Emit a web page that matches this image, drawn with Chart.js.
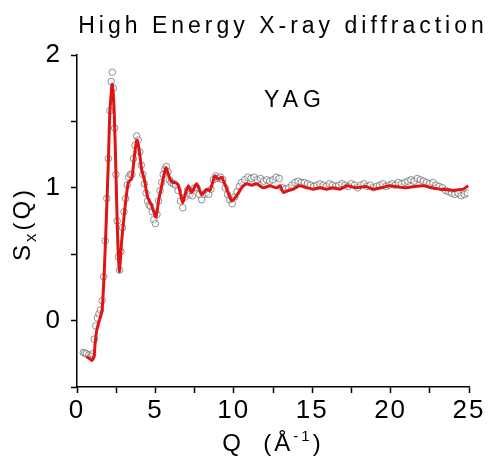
<!DOCTYPE html>
<html>
<head>
<meta charset="utf-8">
<script src="https://cdn.jsdelivr.net/npm/chart.js@4"></script>
<style>
  html, body { margin: 0; padding: 0; background: #fff; }
</style>
</head>
<body>
<canvas id="chart" width="491" height="458"></canvas>
<script>
// fitted curve (red line)
const fitQ = [0.6, 0.8, 0.95, 1.08, 1.15, 1.25, 1.36, 1.5, 1.6, 1.72, 1.85, 2.0, 2.1, 2.25, 2.38, 2.49, 2.59, 2.7, 2.85, 3.06,
  3.27, 3.49, 3.7, 3.82, 3.95, 4.12, 4.3, 4.5, 4.76, 5.04, 5.2, 5.4, 5.55, 5.68, 5.93, 6.1, 6.25, 6.46, 6.74, 6.9,
  7.1, 7.31, 7.63, 7.95, 8.27, 8.48, 8.65, 8.8, 9.01, 9.23, 9.55, 9.87, 10.18, 10.5, 10.82, 11.14, 11.46, 11.88, 12.3, 12.73,
  12.95, 13.16, 13.48, 13.8, 14.2, 14.65, 15.07, 15.5, 15.9, 16.35, 16.8, 17.2, 17.84, 18.4, 18.9, 19.4, 19.96, 20.5, 21.0, 21.5,
  22.1, 22.6, 23.15, 23.6, 24.0, 24.3, 24.64, 24.95];
const fitS = [-0.27, -0.285, -0.3, -0.275, -0.18, -0.08, -0.025, 0.03, 0.08, 0.32, 0.7, 1.2, 1.58, 1.78, 1.55, 1.08, 0.63, 0.37, 0.6, 0.85,
  1.04, 1.07, 1.28, 1.36, 1.3, 1.14, 1.06, 0.93, 0.865, 0.78, 0.9, 1.015, 1.1, 1.15, 1.065, 1.04, 1.04, 1.02, 0.89, 0.95,
  1.015, 0.965, 1.03, 0.95, 0.99, 0.98, 1.04, 1.09, 1.065, 1.08, 0.99, 0.9, 0.94, 1.0, 1.03, 1.02, 1.03, 1.0, 1.015, 1.0,
  1.015, 0.965, 0.98, 0.99, 1.015, 1.0, 0.99, 1.0, 0.99, 1.0, 0.99, 1.015, 1.0, 1.01, 0.99, 1.0, 1.015, 1.005, 1.0, 1.01,
  1.015, 1.0, 0.99, 0.985, 0.98, 0.985, 0.99, 1.015];

// measured points (open grey circles)
const dataQ = [0.4, 0.5, 0.6, 0.75, 0.9, 1.0, 1.1, 1.2, 1.3, 1.4, 1.5, 1.6, 1.7, 1.8, 1.9, 2.0, 2.1, 2.18, 2.25, 2.32,
  2.4, 2.48, 2.56, 2.64, 2.72, 2.8, 2.9, 3.0, 3.1, 3.2, 3.3, 3.4, 3.5, 3.6, 3.7, 3.8, 3.9, 4.0, 4.1, 4.2,
  4.3, 4.4, 4.5, 4.6, 4.7, 4.8, 4.9, 5.0, 5.1, 5.2, 5.3, 5.4, 5.5, 5.6, 5.7, 5.8, 5.9, 6.0, 6.15, 6.3,
  6.45, 6.6, 6.75, 6.9, 7.05, 7.2, 7.35, 7.5, 7.65, 7.8, 7.95, 8.1, 8.25, 8.4, 8.55, 8.7, 8.85, 9.0, 9.15, 9.3,
  9.45, 9.6, 9.75, 9.9, 10.05, 10.2, 10.35, 10.5, 10.7, 10.9, 11.1, 11.3, 11.5, 11.7, 11.9, 12.1, 12.3, 12.5, 12.7, 12.9,
  13.1, 13.3, 13.5, 13.7, 13.9, 14.1, 14.3, 14.5, 14.7, 14.9, 15.1, 15.3, 15.5, 15.7, 15.9, 16.1, 16.3, 16.5, 16.7, 16.9,
  17.1, 17.3, 17.5, 17.7, 17.9, 18.1, 18.3, 18.5, 18.7, 18.9, 19.1, 19.3, 19.5, 19.7, 19.9, 20.1, 20.3, 20.5, 20.7, 20.9,
  21.1, 21.3, 21.5, 21.7, 21.9, 22.1, 22.3, 22.5, 22.7, 22.9, 23.1, 23.3, 23.5, 23.7, 23.9, 24.1, 24.3, 24.5, 24.7, 24.9];
const dataS = [-0.24, -0.245, -0.25, -0.26, -0.27, -0.25, -0.14, -0.04, 0.02, 0.05, 0.08, 0.15, 0.33, 0.6, 0.92, 1.22, 1.58, 1.8, 1.87, 1.75,
  1.45, 1.1, 0.75, 0.48, 0.38, 0.52, 0.7, 0.82, 0.92, 1.02, 1.08, 1.1, 1.1, 1.22, 1.32, 1.39, 1.36, 1.27, 1.17, 1.1,
  1.03, 0.96, 0.9, 0.87, 0.86, 0.82, 0.76, 0.73, 0.8, 0.9, 0.98, 1.04, 1.1, 1.14, 1.16, 1.12, 1.06, 1.04, 1.03, 1.02,
  0.98, 0.9, 0.85, 0.93, 0.98, 0.95, 0.94, 1.0, 1.0, 0.95, 0.91, 0.95, 0.96, 0.95, 0.99, 1.06, 1.09, 1.07, 1.08, 1.06,
  1.0, 0.95, 0.91, 0.88, 0.93, 0.97, 1.01, 1.04, 1.06, 1.08, 1.07, 1.08, 1.06, 1.07, 1.05, 1.06, 1.05, 1.06, 1.08, 1.07,
  1.0, 0.99, 1.0, 1.02, 1.04, 1.05, 1.04, 1.04, 1.03, 1.02, 1.01, 1.02, 1.03, 1.02, 1.01, 1.03, 1.02, 1.01, 1.02, 1.03,
  1.02, 1.01, 1.03, 1.02, 1.0, 1.02, 1.03, 1.01, 1.02, 1.0, 1.01, 1.02, 1.03, 1.01, 1.02, 1.03, 1.02, 1.04, 1.03, 1.04,
  1.05, 1.06, 1.05, 1.07, 1.06, 1.05, 1.04, 1.03, 1.04, 1.02, 1.01, 1.0, 0.98, 0.97, 0.96, 0.95, 0.96, 0.94, 0.95, 0.96];

const xLabels = [0, 5, 10, 15, 20, 25];
const yLabels = [0, 1, 2];

const FONT = '"Liberation Sans", Arial, sans-serif';
Chart.defaults.font.family = FONT;
Chart.defaults.color = '#000';

// texts with sub/superscripts and letter spacing
const textPlugin = {
  id: 'texts',
  beforeDraw(chart) {
    chart.ctx.letterSpacing = '2px';
  },
  afterDraw(chart) {
    const ctx = chart.ctx;
    ctx.save();
    ctx.fillStyle = '#000';
    ctx.textBaseline = 'alphabetic';

    // title
    ctx.font = '23px ' + FONT;
    ctx.letterSpacing = '4px';
    ctx.textAlign = 'center';
    ctx.fillText('High Energy X-ray diffraction', 283, 33);

    // sample label
    ctx.letterSpacing = '5px';
    ctx.fillText('YAG', 295, 107);

    ctx.textAlign = 'left';
    ctx.letterSpacing = '3px';

    // x axis title: Q (Å-1)
    const big = '24px ' + FONT, small = '15px ' + FONT;
    ctx.font = big;
    const p1 = 'Q  (Å', p3 = ')';
    const w1 = ctx.measureText(p1).width, w3 = ctx.measureText(p3).width;
    ctx.font = small;
    const p2 = '-1';
    const w2 = ctx.measureText(p2).width;
    let x = 273 - (w1 + w2 + w3) / 2;
    ctx.font = big;
    ctx.fillText(p1, x, 451);
    ctx.font = small;
    ctx.fillText(p2, x + w1, 441);
    ctx.font = big;
    ctx.fillText(p3, x + w1 + w2, 451);

    // y axis title: Sx(Q)
    ctx.translate(30, 224);
    ctx.rotate(-Math.PI / 2);
    ctx.font = big;
    const s1 = 'S', s3 = '(Q)';
    const v1 = ctx.measureText(s1).width, v3 = ctx.measureText(s3).width;
    ctx.font = '17px ' + FONT;
    const s2 = 'x';
    const v2 = ctx.measureText(s2).width;
    x = -(v1 + v2 + v3) / 2;
    ctx.font = big;
    ctx.fillText(s1, x, 0);
    ctx.font = '17px ' + FONT;
    ctx.fillText(s2, x + v1, 6);
    ctx.font = big;
    ctx.fillText(s3, x + v1 + v2, 0);

    ctx.restore();
    ctx.letterSpacing = '0px';
  }
};

new Chart(document.getElementById('chart'), {
  type: 'line',
  data: {
    datasets: [
      {
        label: 'fit',
        data: fitQ.map((q, i) => ({ x: q, y: fitS[i] })),
        borderColor: '#e01414',
        borderWidth: 3,
        pointRadius: 0,
        tension: 0.2,
        fill: false,
        order: 0
      },
      {
        label: 'data',
        data: dataQ.map((q, i) => ({ x: q, y: dataS[i] })),
        showLine: false,
        pointRadius: 3.3,
        pointBorderWidth: 1,
        pointBorderColor: 'rgba(100,100,100,0.7)',
        pointBackgroundColor: 'rgba(255,255,255,0.4)',
        order: 1
      }
    ]
  },
  options: {
    responsive: false,
    animation: false,
    layout: { padding: { top: 55, right: 22, left: 0, bottom: 0 } },
    plugins: {
      legend: { display: false },
      tooltip: { enabled: false }
    },
    scales: {
      x: {
        type: 'linear',
        min: 0,
        max: 25,
        afterFit: s => { s.height = 71; },
        ticks: {
          stepSize: 2.5,
          autoSkip: false,
          maxRotation: 0,
          padding: 2,
          font: { size: 26 },
          callback: v => xLabels.includes(v) ? String(v) : ''
        },
        grid: { drawOnChartArea: false, tickLength: 6, tickColor: '#000', tickWidth: 1.5 },
        border: { color: '#000', width: 1.5 }
      },
      y: {
        min: -0.5,
        max: 2,
        afterFit: s => { s.width = 77; },
        ticks: {
          stepSize: 0.5,
          autoSkip: false,
          padding: 9,
          font: { size: 26 },
          callback: v => yLabels.includes(v) ? String(v) : ''
        },
        grid: { drawOnChartArea: false, tickLength: 6, tickColor: '#000', tickWidth: 1.5 },
        border: { color: '#000', width: 1.5 }
      }
    }
  },
  plugins: [textPlugin]
});
</script>
</body>
</html>
